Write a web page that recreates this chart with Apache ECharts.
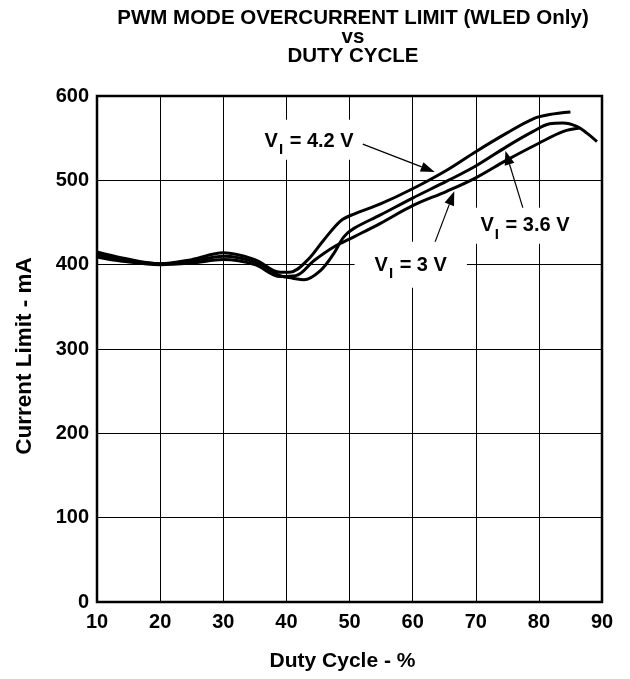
<!DOCTYPE html>
<html><head><meta charset="utf-8">
<script src="https://cdn.jsdelivr.net/npm/echarts/dist/echarts.min.js"></script>
<style>html,body{margin:0;padding:0;background:#fff}#c{width:630px;height:679px}</style>
</head><body><div id="c"></div>
<script>
// Tick settings
const xTickMin = 10, xTickMax = 90, xTickStep = 10;
const yTickMin = 0, yTickMax = 600, yTickStep = 100;

// V_I = 4.2 V
const duty42 = [10, 14, 20, 25, 30, 35, 39, 40.5, 43.3, 45.9, 48.6, 50.7, 54.9, 60, 65.4, 70, 74.9, 79.1, 81.7, 85];
const cur42  = [415, 408, 401, 406, 414, 406, 391, 391, 405, 429, 452, 460, 472, 490, 512, 534, 556, 573, 578, 581];
// V_I = 3.6 V
const duty36 = [10, 14, 20, 25, 30, 35, 39, 41, 42.8, 45.4, 47.5, 49.1, 50.7, 54.9, 60, 65.4, 70, 74.9, 79.1, 81.7, 83.8, 86, 87.6, 89.2];
const cur36  = [412, 406, 401, 404, 410, 403, 387, 384, 382, 393, 413, 433, 443, 459, 479, 499, 517, 540, 558, 567, 568, 564, 556, 546];
// V_I = 3 V
const duty30 = [10, 14, 20, 25, 30, 35, 39, 41.5, 44.4, 47.5, 50.7, 54.9, 60, 65.4, 70, 74.9, 80, 83.9, 86.5];
const cur30  = [409, 404, 400, 402, 406, 400, 386, 387, 405, 421, 433, 449, 470, 487, 503, 524, 544, 558, 562];

// Annotation texts and anchor points (data coordinates)
const annoSub = ['4.2 V', '3.6 V', '3 V'];
const annoLabelAt = [[43.6, 548], [77.8, 446], [59.7, 400]];
const annoFrom = [[52.1, 543], [77.6, 464], [62.9, 414]];
const annoTip  = [[63.5, 510], [74.7, 535], [66.6, 487]];
const annoPad  = [[12, 6, 6, 6], [8, 6, 6, 6], [14, 20, 10, 20]];

const FONT = '"Liberation Sans", Arial, Helvetica, sans-serif';
const zip = (xs, ys) => xs.map((x, i) => [x, ys[i]]);

const chart = echarts.init(document.getElementById('c'), null, {renderer: 'canvas'});
const lineStyle = {color: '#000', width: 3};
const mkSeries = (name, xs, ys) => ({
  name, type: 'line', data: zip(xs, ys), smooth: 0.35, showSymbol: false,
  lineStyle, itemStyle: {color: '#000'}, z: 5
});

chart.setOption({
  animation: false,
  backgroundColor: '#fff',
  title: {
    text: 'PWM MODE OVERCURRENT LIMIT (WLED Only)\nvs\nDUTY CYCLE',
    left: 348, top: 4, textAlign: 'center',
    textStyle: {fontFamily: FONT, fontWeight: 'bold', fontSize: 20.5, lineHeight: 19, color: '#000'}
  },
  grid: {left: 97, right: 28, top: 96, bottom: 77, show: true, borderColor: '#000', borderWidth: 2.5, containLabel: false},
  xAxis: {
    type: 'value', min: xTickMin, max: xTickMax, interval: xTickStep,
    name: 'Duty Cycle - %', nameLocation: 'middle', nameGap: 49,
    nameTextStyle: {fontFamily: FONT, fontWeight: 'bold', fontSize: 21, color: '#000', padding: [0, 14, 0, 0]},
    axisLine: {show: false}, axisTick: {show: false},
    axisLabel: {fontFamily: FONT, fontWeight: 'bold', fontSize: 20, color: '#000', margin: 10},
    splitLine: {show: true, lineStyle: {color: '#000', width: 1}}
  },
  yAxis: {
    type: 'value', min: yTickMin, max: yTickMax, interval: yTickStep,
    name: 'Current Limit - mA', nameLocation: 'middle', nameGap: 61,
    nameTextStyle: {fontFamily: FONT, fontWeight: 'bold', fontSize: 22.5, color: '#000', padding: [0, 0, 0, -14]},
    axisLine: {show: false}, axisTick: {show: false},
    axisLabel: {fontFamily: FONT, fontWeight: 'bold', fontSize: 20, color: '#000', margin: 8},
    splitLine: {show: true, lineStyle: {color: '#000', width: 1}}
  },
  series: [
    mkSeries('V_I = 4.2 V', duty42, cur42),
    mkSeries('V_I = 3.6 V', duty36, cur36),
    mkSeries('V_I = 3 V', duty30, cur30)
  ]
});

function buildAnnotations() {
  const els = [];
  const P = p => chart.convertToPixel({gridIndex: 0}, p);
  for (let i = 0; i < annoSub.length; i++) {
    const a = P(annoFrom[i]), b = P(annoTip[i]);
    const dx = b[0] - a[0], dy = b[1] - a[1], L = Math.hypot(dx, dy);
    const ux = dx / L, uy = dy / L, hl = 14, hw = 5;
    const bx = b[0] - ux * hl, by = b[1] - uy * hl;
    els.push({type: 'line', z: 50, shape: {x1: a[0], y1: a[1], x2: bx, y2: by}, style: {stroke: '#000', lineWidth: 1.2}});
    els.push({type: 'polygon', z: 50, shape: {points: [[b[0], b[1]], [bx - uy * hw, by + ux * hw], [bx + uy * hw, by - ux * hw]]}, style: {fill: '#000'}});
    const c = P(annoLabelAt[i]);
    els.push({
      type: 'text', z: 60, x: c[0], y: c[1],
      style: {
        text: '{v|V}{s|I}{r| = ' + annoSub[i] + '}',
        align: 'center', verticalAlign: 'middle',
        backgroundColor: '#fff', padding: annoPad[i],
        rich: {
          v: {fontFamily: FONT, fontWeight: 'bold', fontSize: 20, fill: '#000', verticalAlign: 'top', lineHeight: 22},
          s: {fontFamily: FONT, fontWeight: 'bold', fontSize: 15, fill: '#000', verticalAlign: 'top', lineHeight: 17, padding: [11, 1, 0, 1]},
          r: {fontFamily: FONT, fontWeight: 'bold', fontSize: 20, fill: '#000', verticalAlign: 'top', lineHeight: 22}
        }
      }
    });
  }
  chart.setOption({graphic: {elements: els}});
}
buildAnnotations();
</script>
</body></html>
